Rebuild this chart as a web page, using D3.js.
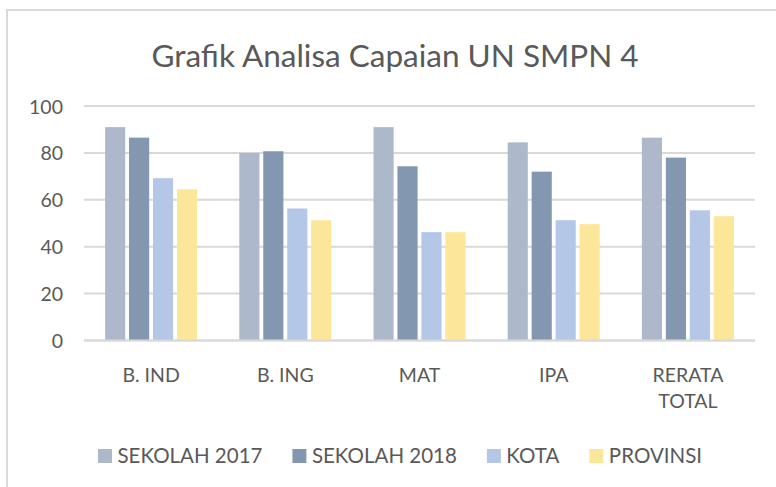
<!DOCTYPE html>
<html>
<head>
<meta charset="utf-8">
<script src="https://cdn.jsdelivr.net/npm/d3@7"></script>
<style>
  html, body { margin: 0; padding: 0; background: #fff; }
  svg { display: block; }
  text { font-family: Lato, "Open Sans", sans-serif; fill: #595959; }
</style>
</head>
<body>
<svg id="chart" width="776" height="487"></svg>
<script>
const title = "Grafik Analisa Capaian UN SMPN 4";
const categories = ["B. IND", "B. ING", "MAT", "IPA", "RERATA TOTAL"];
const seriesNames = ["SEKOLAH 2017", "SEKOLAH 2018", "KOTA", "PROVINSI"];
const sekolah2017 = [91, 80, 91, 84.5, 86.5];
const sekolah2018 = [86.5, 80.7, 74.3, 72, 78];
const kota = [69.2, 56.3, 46.2, 51.3, 55.5];
const provinsi = [64.5, 51.3, 46.2, 49.6, 53];
const yTicks = [0, 20, 40, 60, 80, 100];
const colors = ["#adb9ca", "#8497b0", "#b4c7e7", "#fbe699"];

const seriesValues = [sekolah2017, sekolah2018, kota, provinsi];

const svg = d3.select("#chart");

// chart border
svg.append("rect")
  .attr("x", 7).attr("y", 10)
  .attr("width", 790).attr("height", 500)
  .attr("fill", "none").attr("stroke", "#d9d9d9").attr("stroke-width", 2);

// title
svg.append("text")
  .attr("x", 395).attr("y", 67)
  .attr("text-anchor", "middle")
  .attr("font-size", 31.5)
  .text(title);

const plot = { left: 84, right: 755, top: 106, bottom: 340.5 };

const y = d3.scaleLinear().domain([0, 100]).range([plot.bottom, plot.top]);
const x0 = d3.scaleBand().domain(categories).range([plot.left, plot.right]).padding(0);
const x1 = d3.scaleBand().domain(seriesNames).range([-46, 46]).paddingInner(0.16);

// gridlines
svg.append("g")
  .selectAll("line")
  .data(yTicks)
  .join("line")
  .attr("x1", plot.left).attr("x2", plot.right)
  .attr("y1", d => y(d)).attr("y2", d => y(d))
  .attr("stroke", "#d9d9d9").attr("stroke-width", 2);

// y axis labels
const yAxis = d3.axisLeft(y).tickValues(yTicks).tickSize(0).tickPadding(0);
const yg = svg.append("g").attr("transform", `translate(63,0)`).call(yAxis);
yg.select(".domain").remove();
yg.selectAll("text")
  .attr("font-size", 19.5)
  .attr("font-family", "Lato, sans-serif")
  .attr("fill", "#595959")
  .attr("dy", "0.36em");

// bars
const groups = svg.append("g")
  .selectAll("g")
  .data(categories)
  .join("g")
  .attr("transform", c => `translate(${x0(c) + x0.bandwidth() / 2},0)`);

groups.selectAll("rect")
  .data((c, i) => seriesNames.map((s, j) => ({ s, j, v: seriesValues[j][i] })))
  .join("rect")
  .attr("x", d => x1(d.s))
  .attr("width", x1.bandwidth())
  .attr("y", d => y(d.v))
  .attr("height", d => y(0) - y(d.v))
  .attr("fill", d => colors[d.j]);

// redraw baseline over bars
svg.append("line")
  .attr("x1", plot.left).attr("x2", plot.right)
  .attr("y1", y(0)).attr("y2", y(0))
  .attr("stroke", "#d9d9d9").attr("stroke-width", 2);

// x axis labels
const xAxis = d3.axisBottom(x0).tickSize(0).tickPadding(0);
const xg = svg.append("g").attr("transform", `translate(0,${plot.bottom})`).call(xAxis);
xg.select(".domain").remove();
xg.selectAll("text").remove();
xg.selectAll(".tick").each(function (c) {
  const words = c === "RERATA TOTAL" ? ["RERATA", "TOTAL"] : [c];
  const t = d3.select(this).append("text")
    .attr("text-anchor", "middle")
    .attr("font-size", 19.5)
    .attr("font-family", "Lato, sans-serif")
    .attr("fill", "#595959");
  words.forEach((w, i) => {
    t.append("tspan").attr("x", 0).attr("y", 41 + i * 26.5).text(w);
  });
});

// legend
const legend = svg.append("g");
let lx = 0;
seriesNames.forEach((s, i) => {
  const g = legend.append("g");
  g.append("rect").attr("x", 0).attr("y", -14).attr("width", 14).attr("height", 14).attr("fill", colors[i]);
  const t = g.append("text").attr("x", 19.5).attr("y", 0).attr("font-size", 20.5).text(s);
  const w = 19.5 + t.node().getComputedTextLength();
  g.attr("transform", `translate(${lx},0)`);
  lx += w + 30;
});
const totalW = lx - 30;
legend.attr("transform", `translate(${400 - totalW / 2},463)`);
</script>
</body>
</html>
